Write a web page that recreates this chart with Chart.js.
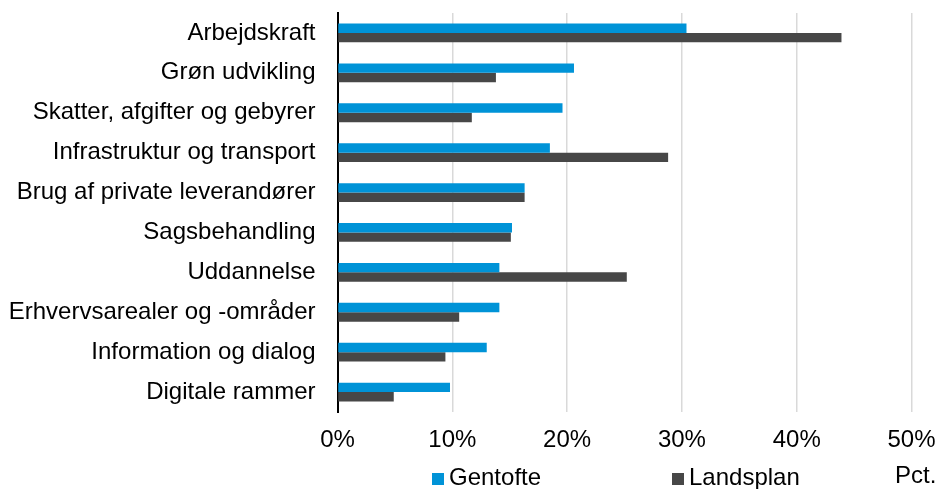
<!DOCTYPE html>
<html>
<head>
<meta charset="utf-8">
<script src="https://cdn.jsdelivr.net/npm/chart.js@4"></script>
<style>
  html, body { margin: 0; padding: 0; background: #fff; }
  #wrap { width: 940px; height: 489px; position: relative; }
</style>
</head>
<body>
<div id="wrap"><canvas id="c" width="940" height="489"></canvas></div>
<script>
const categories = [
  "Arbejdskraft",
  "Grøn udvikling",
  "Skatter, afgifter og gebyrer",
  "Infrastruktur og transport",
  "Brug af private leverandører",
  "Sagsbehandling",
  "Uddannelse",
  "Erhvervsarealer og -områder",
  "Information og dialog",
  "Digitale rammer"
];
const seriesNames = ["Gentofte", "Landsplan"];
const gentofte = [30.4, 20.6, 19.6, 18.5, 16.3, 15.2, 14.1, 14.1, 13.0, 9.8];
const landsplan = [43.9, 13.8, 11.7, 28.8, 16.3, 15.1, 25.2, 10.6, 9.4, 4.9];
const xTicks = [0, 10, 20, 30, 40, 50];
const unitLabel = "Pct.";

const FONT = '"Liberation Sans", Arial, sans-serif';
const FS = 24;
const colors = ["#0093D7", "#474747"];

const legendPlugin = {
  id: 'customLegend',
  afterDraw(chart) {
    const ctx = chart.ctx;
    ctx.save();
    ctx.font = FS + 'px ' + FONT;
    ctx.textBaseline = 'alphabetic';
    ctx.textAlign = 'left';
    const items = [{ sx: 432, tx: 449 }, { sx: 672, tx: 689 }];
    chart.data.datasets.forEach((ds, i) => {
      const it = items[i];
      ctx.fillStyle = ds.backgroundColor;
      ctx.fillRect(it.sx, 473, 12, 12);
      ctx.fillStyle = '#000';
      ctx.fillText(ds.label, it.tx, 485);
    });
    ctx.fillStyle = '#000';
    ctx.fillText(unitLabel, 895, 483);
    ctx.restore();
  }
};

new Chart(document.getElementById('c'), {
  type: 'bar',
  data: {
    labels: categories,
    datasets: [
      { label: seriesNames[0], data: gentofte, backgroundColor: colors[0], borderWidth: 0 },
      { label: seriesNames[1], data: landsplan, backgroundColor: colors[1], borderWidth: 0 }
    ]
  },
  options: {
    indexAxis: 'y',
    responsive: false,
    animation: false,
    devicePixelRatio: 1,
    layout: { padding: { top: 13, right: 28.5, left: 0, bottom: 0 } },
    datasets: { bar: { categoryPercentage: 0.47, barPercentage: 1.0 } },
    plugins: { legend: { display: false }, tooltip: { enabled: false } },
    scales: {
      x: {
        min: 0, max: 50,
        afterBuildTicks(scale) { scale.ticks = xTicks.map(v => ({ value: v })); },
        afterFit(scale) {
          scale.height = 489 - 412;
          scale.paddingLeft = 0; scale.paddingRight = 0;
          scale.paddingTop = 0; scale.paddingBottom = 0;
        },
        grid: { color: '#d9d9d9', lineWidth: 1.5, drawTicks: false },
        border: { display: false },
        ticks: {
          padding: 14,
          color: '#000',
          font: { family: FONT, size: FS },
          callback: v => v + '%'
        }
      },
      y: {
        afterFit(scale) {
          scale.width = 337.5;
          scale.paddingTop = 0; scale.paddingBottom = 0;
          scale.paddingLeft = 0; scale.paddingRight = 0;
        },
        grid: { display: false, drawTicks: false },
        border: { display: true, color: '#000', width: 2 },
        ticks: {
          padding: 22,
          color: '#000',
          font: { family: FONT, size: FS }
        }
      }
    }
  },
  plugins: [legendPlugin]
});
</script>
</body>
</html>
